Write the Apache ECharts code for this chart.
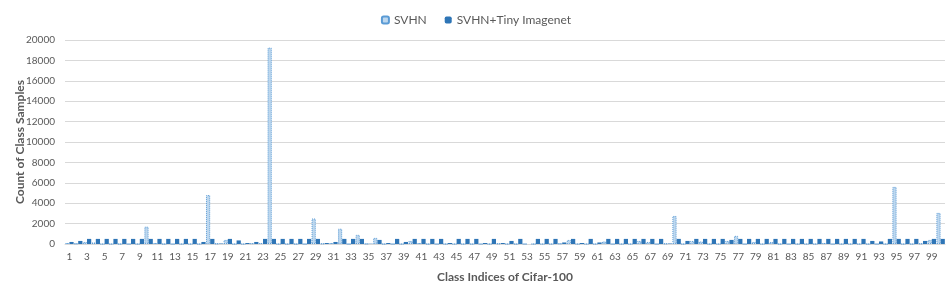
<!DOCTYPE html>
<html><head><meta charset="utf-8">
<script src="https://cdn.jsdelivr.net/npm/echarts@6/dist/echarts.min.js"></script>
<style>html,body{margin:0;padding:0;background:#fff}#c{width:952px;height:294px}</style>
</head><body><div id="c"></div>
<script>
const categories = Array.from({length: 100}, (_, i) => String(i + 1));
const svhn = [
 100, 50, 200, 150, 0, 0, 0, 0, 0, 1700,
 100, 0, 0, 0, 0, 0, 4800, 50, 400, 0,
 0, 80, 100, 19250, 0, 0, 0, 0, 2500, 50,
 100, 1500, 0, 900, 30, 600, 0, 0, 0, 300,
 100, 0, 0, 0, 0, 0, 0, 0, 0, 50,
 0, 0, 0, 0, 0, 0, 50, 400, 0, 0,
 0, 250, 0, 0, 0, 300, 200, 0, 50, 2750,
 0, 300, 250, 0, 0, 300, 800, 0, 200, 0,
 200, 0, 0, 0, 0, 0, 100, 0, 0, 0,
 0, 0, 0, 0, 5600, 0, 0, 50, 400, 3050
];
const svhnTiny = [
 200, 300, 500, 500, 500, 500, 500, 500, 500, 500,
 500, 500, 500, 500, 500, 200, 500, 50, 500, 350,
 100, 200, 500, 500, 500, 500, 500, 500, 500, 100,
 200, 500, 500, 500, 30, 400, 100, 500, 200, 500,
 500, 500, 500, 100, 500, 500, 500, 100, 500, 100,
 300, 500, 0, 500, 500, 500, 150, 500, 100, 500,
 150, 500, 500, 500, 500, 500, 500, 500, 50, 500,
 300, 500, 500, 500, 500, 400, 500, 500, 500, 500,
 500, 500, 500, 500, 500, 500, 500, 500, 500, 500,
 500, 300, 250, 500, 500, 500, 500, 300, 500, 500
];
const yTicks = [0, 2000, 4000, 6000, 8000, 10000, 12000, 14000, 16000, 18000, 20000];

const font = 'Lato, "Open Sans", sans-serif';
const chart = echarts.init(document.getElementById('c'), null, {renderer: 'canvas'});
chart.setOption({
  animation: false,
  textStyle: {fontFamily: font},
  legend: {
    top: 9, left: 'center', itemWidth: 7, itemHeight: 7, itemGap: 18,
    textStyle: {fontSize: 12, color: '#595959', fontFamily: font},
    data: ['SVHN', 'SVHN+Tiny Imagenet']
  },
  grid: {left: 65, right: 7, top: 40, bottom: 50, containLabel: false},
  xAxis: {
    type: 'category', data: categories,
    name: 'Class Indices of Cifar-100', nameLocation: 'middle', nameGap: 27,
    nameTextStyle: {fontSize: 12, fontWeight: 'bold', color: '#595959', fontFamily: font},
    axisLine: {lineStyle: {color: '#d9d9d9'}},
    axisTick: {show: false},
    axisLabel: {interval: 1, fontSize: 10, color: '#595959', margin: 8, fontFamily: font}
  },
  yAxis: {
    type: 'value', min: yTicks[0], max: yTicks[yTicks.length - 1], interval: 2000,
    name: 'Count of Class Samples', nameLocation: 'middle', nameGap: 39, nameMoveOverlap: false,
    nameTextStyle: {fontSize: 12, fontWeight: 'bold', color: '#595959', fontFamily: font},
    axisLine: {show: false}, axisTick: {show: false},
    axisLabel: {fontSize: 10, color: '#595959', margin: 10, fontFamily: font, formatter: v => String(v)},
    splitLine: {lineStyle: {color: '#d9d9d9'}}
  },
  series: [
    {name: 'SVHN', type: 'bar', data: svhn, barGap: '0%', barCategoryGap: '4%',
     itemStyle: {color: '#bdd7ee', borderColor: '#5b9bd5', borderWidth: 1, borderType: 'dotted'}},
    {name: 'SVHN+Tiny Imagenet', type: 'bar', data: svhnTiny, barGap: '0%', barCategoryGap: '4%',
     itemStyle: {color: '#2e75b6'}}
  ]
});
</script></body></html>
